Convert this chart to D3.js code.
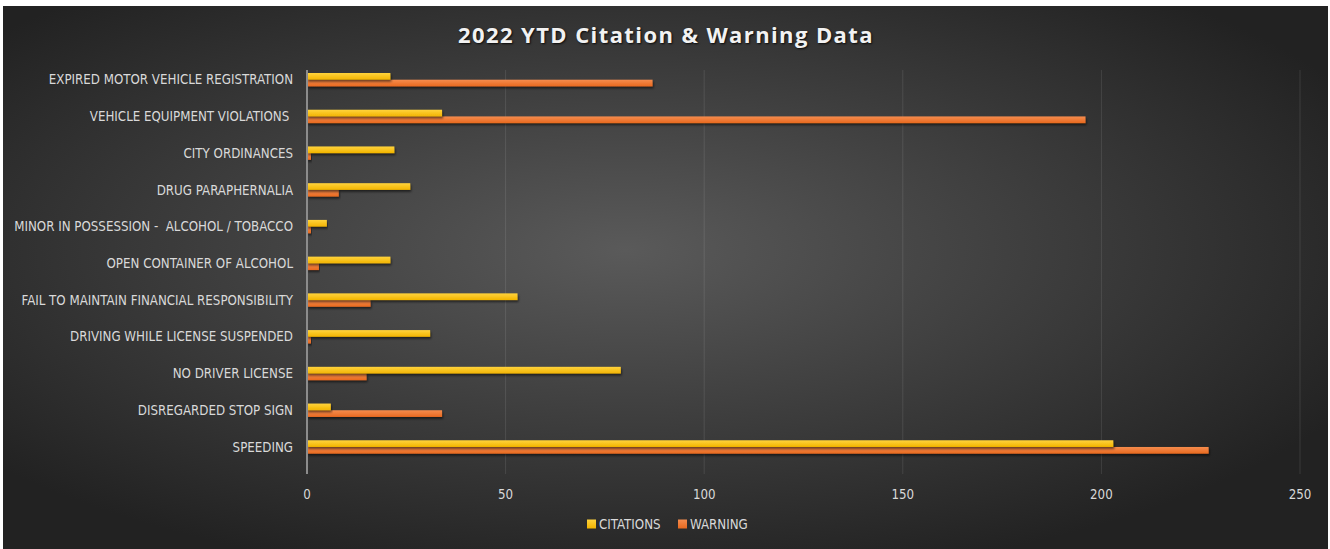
<!DOCTYPE html>
<html>
<head>
<meta charset="utf-8">
<script src="https://cdn.jsdelivr.net/npm/d3@7"></script>
<style>
  html, body { margin: 0; padding: 0; background: #fff; }
  svg { display: block; }
  text { white-space: pre; }
</style>
</head>
<body>
<div id="chart"></div>
<script>
// data, top to bottom as in the chart
const categories = [
  'EXPIRED MOTOR VEHICLE REGISTRATION',
  'VEHICLE EQUIPMENT VIOLATIONS ',
  'CITY ORDINANCES',
  'DRUG PARAPHERNALIA',
  'MINOR IN POSSESSION -  ALCOHOL / TOBACCO',
  'OPEN CONTAINER OF ALCOHOL',
  'FAIL TO MAINTAIN FINANCIAL RESPONSIBILITY',
  'DRIVING WHILE LICENSE SUSPENDED',
  'NO DRIVER LICENSE',
  'DISREGARDED STOP SIGN',
  'SPEEDING'
];
const citations = [21, 34, 22, 26, 5, 21, 53, 31, 79, 6, 203];
const warnings = [87, 196, 1, 8, 1, 3, 16, 1, 15, 34, 227];
const seriesNames = ['CITATIONS', 'WARNING'];
const xTicks = [0, 50, 100, 150, 200, 250];

const width = 1330, height = 549;
const margin = { top: 70, right: 30, bottom: 75, left: 307 };
const labelFont = '"Liberation Sans Narrow", "DejaVu Sans Condensed", Arial, sans-serif';

const svg = d3.select('#chart').append('svg')
  .attr('width', width)
  .attr('height', height);

const defs = svg.append('defs');

// background radial gradient
const bg = defs.append('radialGradient')
  .attr('id', 'bg')
  .attr('cx', '0.47').attr('cy', '0.45').attr('r', '0.62');
bg.append('stop').attr('offset', '0%').attr('stop-color', '#5a5a5a');
bg.append('stop').attr('offset', '100%').attr('stop-color', '#222222');

const barColors = {
  CITATIONS: ['#ffd33d', '#f2b400'],
  WARNING: ['#f58c4e', '#e8691f']
};
seriesNames.forEach((s, i) => {
  const gr = defs.append('linearGradient')
    .attr('id', 'grad' + i)
    .attr('x1', 0).attr('y1', 0).attr('x2', 0).attr('y2', 1);
  gr.append('stop').attr('offset', '0%').attr('stop-color', barColors[s][0]);
  gr.append('stop').attr('offset', '100%').attr('stop-color', barColors[s][1]);
});

defs.append('filter')
  .attr('id', 'shadow')
  .attr('x', '-5%').attr('y', '-50%').attr('width', '110%').attr('height', '250%')
  .append('feDropShadow')
  .attr('dx', 1).attr('dy', 2).attr('stdDeviation', 1.2)
  .attr('flood-color', '#000').attr('flood-opacity', 0.55);

svg.append('rect')
  .attr('x', 3).attr('y', 6)
  .attr('width', width - 5).attr('height', height - 6)
  .attr('fill', 'url(#bg)');

// scales
const x = d3.scaleLinear()
  .domain([0, 250])
  .range([margin.left, width - margin.right]);

const y = d3.scaleBand()
  .domain(categories)
  .range([margin.top, height - margin.bottom]);

// bars sit in the upper part of each band
const ySeries = d3.scaleBand()
  .domain(seriesNames)
  .range([3, 16.4]);

// gridlines
svg.append('g')
  .selectAll('line')
  .data(xTicks.slice(1))
  .join('line')
  .attr('x1', d => x(d)).attr('x2', d => x(d))
  .attr('y1', margin.top).attr('y2', height - margin.bottom)
  .attr('stroke', '#ffffff')
  .attr('stroke-opacity', 0.1)
  .attr('stroke-width', 1);

// bars
const rows = categories.map((c, i) => ({ cat: c, values: [citations[i], warnings[i]] }));

const groups = svg.append('g')
  .selectAll('g')
  .data(rows)
  .join('g')
  .attr('transform', d => `translate(0,${y(d.cat)})`);

groups.selectAll('rect')
  .data(d => d.values.map((v, i) => ({ key: seriesNames[i], value: v, idx: i })).reverse())
  .join('rect')
  .attr('x', x(0))
  .attr('y', d => ySeries(d.key))
  .attr('width', d => x(d.value) - x(0))
  .attr('height', ySeries.bandwidth())
  .attr('fill', d => `url(#grad${d.idx})`)
  .attr('filter', 'url(#shadow)');

// axis line at zero
svg.append('line')
  .attr('x1', x(0)).attr('x2', x(0))
  .attr('y1', margin.top).attr('y2', height - margin.bottom)
  .attr('stroke', '#8c8c8c')
  .attr('stroke-width', 2);

// category labels
svg.append('g')
  .selectAll('text')
  .data(categories)
  .join('text')
  .attr('x', x(0) - 14)
  .attr('y', d => y(d) + ySeries.range()[0] + (ySeries.range()[1] - ySeries.range()[0]) / 2)
  .attr('dy', '0.35em')
  .attr('text-anchor', 'end')
  .attr('fill', '#d9d9d9')
  .style('font-family', labelFont)
  .style('font-size', '13.2px')
  .text(d => d);

// x tick labels
svg.append('g')
  .selectAll('text')
  .data(xTicks)
  .join('text')
  .attr('x', d => x(d))
  .attr('y', height - margin.bottom + 20)
  .attr('dy', '0.35em')
  .attr('text-anchor', 'middle')
  .attr('fill', '#d9d9d9')
  .style('font-family', labelFont)
  .style('font-size', '13.2px')
  .text(d => d);

// title
svg.append('text')
  .attr('x', 666)
  .attr('y', 35)
  .attr('dy', '0.35em')
  .attr('text-anchor', 'middle')
  .attr('fill', '#f2f2f2')
  .style('font-family', '"Open Sans", "DejaVu Sans", sans-serif')
  .style('font-weight', 'bold')
  .style('font-size', '22px')
  .style('letter-spacing', '1.4px')
  .style('text-shadow', '1px 1px 2px rgba(0,0,0,0.8)')
  .text('2022 YTD Citation & Warning Data');

// legend
const legend = svg.append('g')
  .attr('transform', `translate(587,${height - 25})`);
const legendX = d3.scaleOrdinal().domain(seriesNames).range([0, 91]);
const item = legend.selectAll('g')
  .data(seriesNames)
  .join('g')
  .attr('transform', d => `translate(${legendX(d)},0)`);
item.append('rect')
  .attr('y', -4.5)
  .attr('width', 9).attr('height', 9)
  .attr('fill', (d, i) => `url(#grad${i})`);
item.append('text')
  .attr('x', 12)
  .attr('dy', '0.35em')
  .attr('fill', '#d9d9d9')
  .style('font-family', labelFont)
  .style('font-size', '13.2px')
  .text(d => d);
</script>
</body>
</html>
